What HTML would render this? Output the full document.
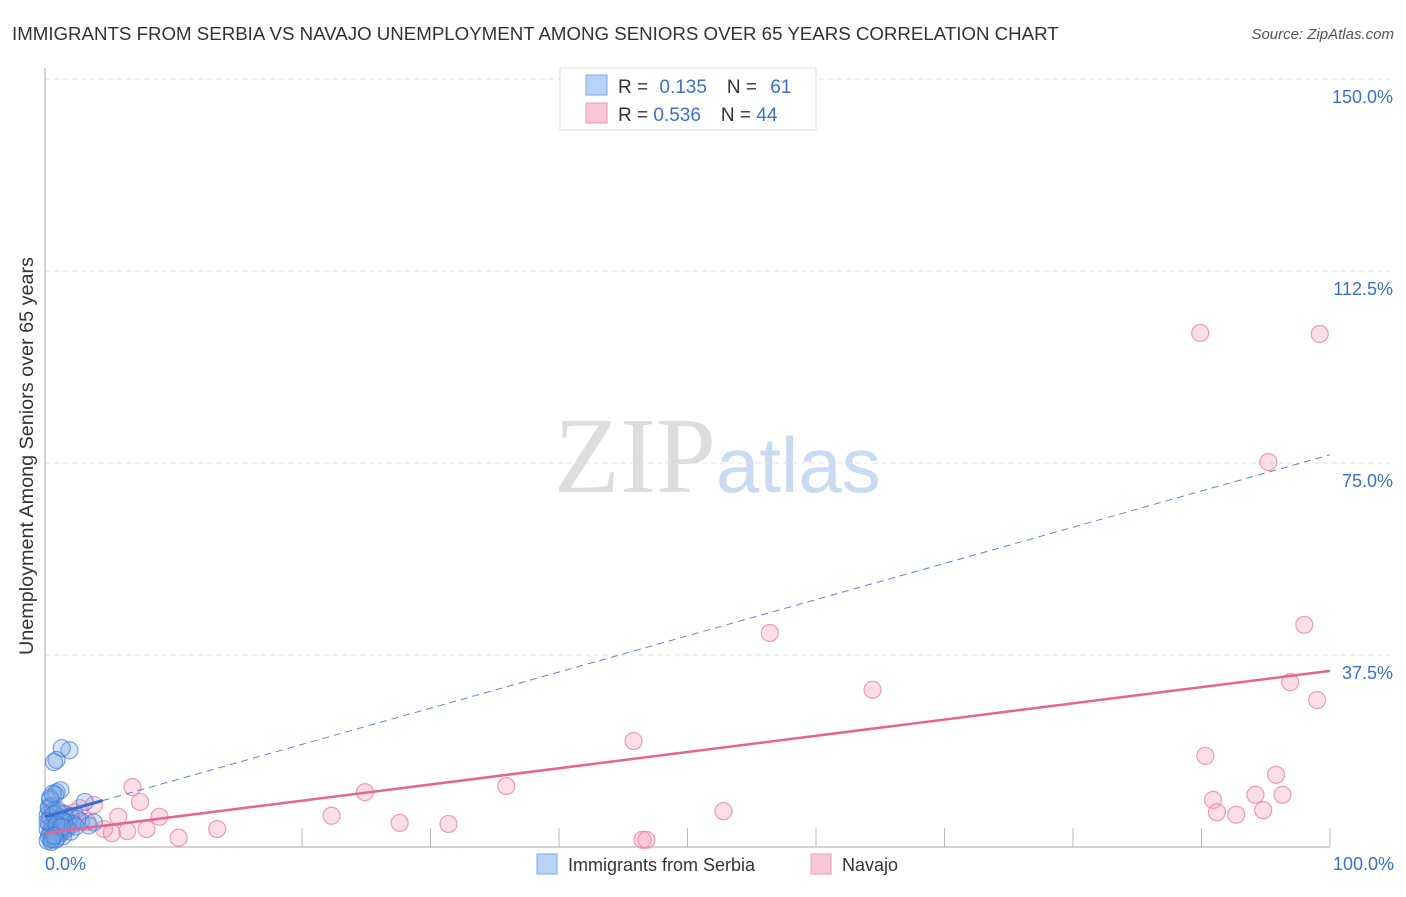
<!DOCTYPE html>
<html><head><meta charset="utf-8"><style>
body{margin:0;background:#fff;font-family:"Liberation Sans",sans-serif;}
svg text{font-family:"Liberation Sans",sans-serif;}
</style></head><body>
<svg id="c" width="1406" height="892" xmlns="http://www.w3.org/2000/svg">
<text x="12" y="40" font-size="18.7" fill="#333">IMMIGRANTS FROM SERBIA VS NAVAJO UNEMPLOYMENT AMONG SENIORS OVER 65 YEARS CORRELATION CHART</text>
<text x="1394" y="39" font-size="15" fill="#555" font-style="italic" text-anchor="end">Source: ZipAtlas.com</text>
<text x="716" y="492" font-size="108" fill="#ddd" text-anchor="end" style="font-family:'Liberation Serif',serif">ZIP</text>
<text x="716" y="492" font-size="78" fill="#c9dbf3">atlas</text>
<g id="grid"></g><g id="marks"></g>
<text transform="translate(33,456) rotate(-90)" font-size="19.8" fill="#333" text-anchor="middle">Unemployment Among Seniors over 65 years</text>
<text x="45" y="870" font-size="18" fill="#3a70d0">0.0%</text>
<text x="1394" y="870" font-size="18" fill="#3a70d0" text-anchor="end">100.0%</text>
<g>
<rect x="560" y="68" width="256" height="62" fill="#fff" stroke="#ddd"/>
<rect x="586" y="75" width="21" height="20" fill="#b7d3f5" stroke="#7fa8e0"/>
<rect x="586" y="103" width="21" height="20" fill="#f9c8d5" stroke="#eb9ab0"/>
<text x="618" y="93" font-size="19" fill="#333">R = <tspan fill="#3a70d0" dx="6">0.135</tspan><tspan dx="20" fill="#333">N = </tspan><tspan fill="#3a70d0" dx="8">61</tspan></text>
<text x="618" y="121" font-size="19" fill="#333">R = <tspan fill="#3a70d0">0.536</tspan><tspan dx="20" fill="#333">N = </tspan><tspan fill="#3a70d0">44</tspan></text>
</g>
<g>
<rect x="537" y="854" width="20" height="20" fill="#b7d3f5" stroke="#7fa8e0"/>
<text x="568" y="871" font-size="18" fill="#333">Immigrants from Serbia</text>
<rect x="811" y="854" width="20" height="20" fill="#f9c8d5" stroke="#eb9ab0"/>
<text x="842" y="871" font-size="18" fill="#333">Navajo</text>
</g>
</svg>
<script>
const yTicks=[37.5,75,112.5,150];
const yTickLabels=["37.5%","75.0%","112.5%","150.0%"];
const xTicks=[20,30,40,50,60,70,80,90,100];
const navajoX=[89.9,99.2,95.2,56.4,98.0,64.4,96.9,99.0,45.8,90.3,95.8,35.9,24.9,94.2,96.3,90.9,7.4,91.2,94.8,92.7,52.8,22.3,8.9,5.7,31.4,27.6,13.4,7.9,6.4,4.6,5.2,10.4,46.5,46.8,6.8,3.8,2.7,1.6,0.8,1.9,1.2,3.3,2.3,0.4];
const navajoY=[100.4,100.2,75.2,41.8,43.4,30.7,32.2,28.7,20.7,17.8,14.1,11.9,10.7,10.2,10.2,9.2,8.8,6.8,7.2,6.3,7.0,6.1,5.9,5.9,4.5,4.7,3.5,3.5,3.1,3.5,2.7,1.8,1.4,1.4,11.7,8.2,7.6,6.3,5.3,4.3,3.3,4.9,6.8,5.7];
const serbiaX=[1.9,1.3,0.9,0.7,0.9,0.8,1.2,0.4,3.1,0.5,0.3,0.6,1.0,1.5,2.0,2.5,0.2,0.4,0.8,1.1,1.4,1.8,0.3,0.6,0.9,1.2,1.6,2.2,2.8,3.4,0.2,0.5,0.7,1.0,1.3,1.7,0.4,0.8,1.1,0.3,0.6,0.9,1.4,2.0,0.2,0.5,0.8,1.2,0.3,0.7,1.0,1.5,2.4,0.4,0.6,0.2,0.9,1.3,3.8,0.5,0.7];
const serbiaY=[18.9,19.3,17.0,16.6,10.7,10.2,11.1,9.2,8.8,8.0,7.5,7.0,6.8,6.5,6.0,5.5,6.2,5.8,5.5,5.2,5.0,4.8,4.6,4.4,4.2,4.0,3.8,4.5,5.0,4.2,3.5,3.3,3.1,3.0,2.8,3.6,2.5,2.3,2.6,2.0,1.8,1.6,2.1,3.0,1.2,1.0,1.4,5.8,7.8,6.4,7.2,4.9,4.0,9.6,10.4,5.0,4.4,3.9,4.8,1.5,2.2];
const navajoTrend=[2.7,34.4];
const serbiaTrend=[5.9,76.6];
const sx=v=>45+v*12.85, sy=v=>847-v*5.12;
const NS="http://www.w3.org/2000/svg";
function mk(tag,attrs,parent){const e=document.createElementNS(NS,tag);for(const k in attrs)e.setAttribute(k,attrs[k]);parent.appendChild(e);return e;}
const grid=document.getElementById('grid'),marks=document.getElementById('marks');
yTicks.forEach((t,i)=>{
 const l=mk('line',{x1:45,x2:1394,y1:sy(t),y2:sy(t),stroke:'#e2e2e2','stroke-dasharray':'5,4'},grid);
 
 
 const tx=mk('text',{x:1393,y:sy(t)+24,'font-size':18,fill:'#3a70d0','text-anchor':'end'},grid);
 tx.textContent=yTickLabels[i];
 
 
});
xTicks.forEach(t=>{
 const l=mk('line',{x1:sx(t),x2:sx(t),y1:828,y2:847,stroke:'#bbb'},grid);
 
 
});
const ax=mk('path',{d:'M45,68 V847 H1330',fill:'none',stroke:'#aaa'},grid);


navajoX.forEach((x,i)=>{
 const c=mk('circle',{cx:sx(x),cy:sy(navajoY[i]),r:8.5,fill:'rgba(245,160,185,0.35)',stroke:'rgba(232,120,155,0.7)','stroke-width':1.2},marks);
 
 
});
serbiaX.forEach((x,i)=>{
 const c=mk('circle',{cx:sx(x),cy:sy(serbiaY[i]),r:8.5,fill:'rgba(120,165,230,0.3)',stroke:'rgba(60,120,215,0.65)','stroke-width':1.2},marks);
 
 
});
const sd=mk('line',{x1:sx(0),y1:sy(serbiaTrend[0]),x2:sx(100),y2:sy(serbiaTrend[1]),stroke:'#5a8ad8','stroke-width':1,'stroke-dasharray':'7,5'},marks);


const ss=mk('line',{x1:sx(0),y1:sy(serbiaTrend[0]),x2:sx(4.5),y2:sy(serbiaTrend[0]+(serbiaTrend[1]-serbiaTrend[0])*0.045),stroke:'#3a6fd0','stroke-width':3},marks);


const nt=mk('line',{x1:sx(0),y1:sy(navajoTrend[0]),x2:sx(100),y2:sy(navajoTrend[1]),stroke:'#e8648c','stroke-width':2.5},marks);


</script>
</body></html>
